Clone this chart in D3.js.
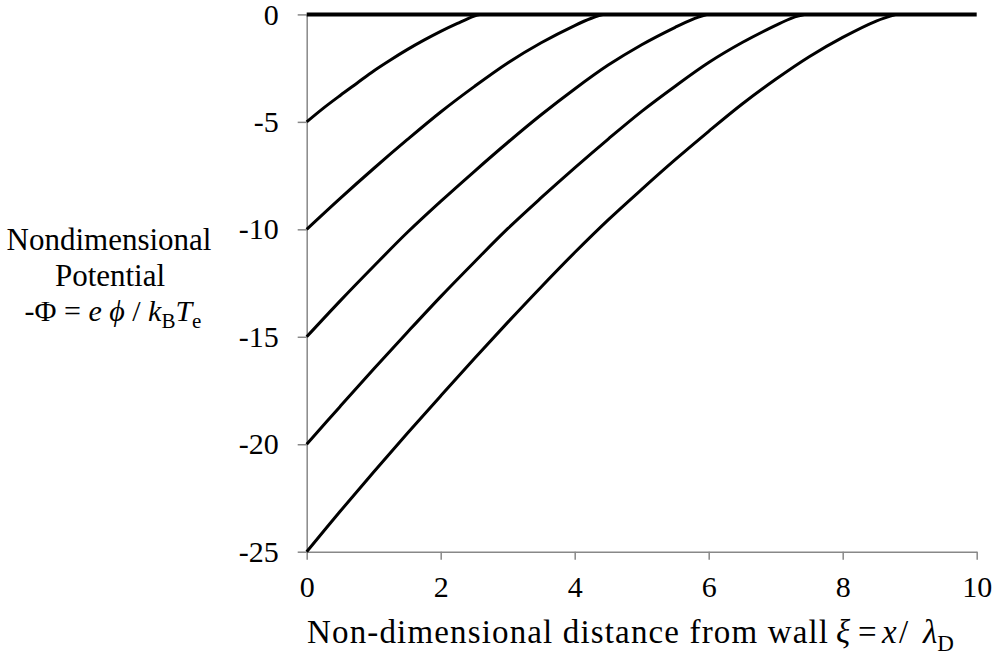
<!DOCTYPE html>
<meta charset="utf-8">
<script src="https://d3js.org/d3.v7.min.js"></script>
<style>
  body { margin: 0; background: #fff; }
  text { font-family: "Liberation Serif", "Times New Roman", serif; }
</style>
<div id="chart"></div>
<script>
// sheath potential profiles [xi, -Phi]
var zeroLine = [[0, 0], [10, 0]];
var from5  = [[0,-5],[0.25,-4.36],[0.5,-3.77],[0.75,-3.2],[1,-2.63],[1.25,-2.12],[1.5,-1.64],[1.75,-1.2],[2,-0.79],[2.25,-0.42],[2.5,-0.08],[2.6,0]];
var from10 = [[0,-10],[0.5,-8.56],[1,-7.17],[1.5,-5.83],[2,-4.54],[2.5,-3.36],[3,-2.26],[3.5,-1.32],[4,-0.52],[4.25,-0.18],[4.43,0]];
var from15 = [[0,-15],[0.5,-13.33],[1,-11.72],[1.5,-10.15],[2,-8.7],[2.5,-7.31],[3,-5.96],[3.5,-4.67],[4,-3.47],[4.5,-2.36],[5,-1.41],[5.5,-0.6],[5.75,-0.24],[5.98,0]];
var from20 = [[0,-20],[0.5,-18.24],[1,-16.5],[1.5,-14.8],[2,-13.13],[2.5,-11.53],[3,-9.97],[3.5,-8.53],[4,-7.14],[4.5,-5.8],[5,-4.51],[5.5,-3.34],[6,-2.24],[6.5,-1.31],[7,-0.51],[7.25,-0.16],[7.44,0]];
var from25 = [[0,-25],[0.5,-23.12],[1,-21.29],[1.5,-19.5],[2,-17.75],[2.5,-16.02],[3,-14.33],[3.5,-12.68],[4,-11.08],[4.5,-9.56],[5,-8.14],[5.5,-6.76],[6,-5.44],[6.5,-4.17],[7,-3.02],[7.5,-1.97],[8,-1.07],[8.5,-0.31],[8.8,0]];

var xTicks = [0, 2, 4, 6, 8, 10];
var yTicks = [0, -5, -10, -15, -20, -25];

var W = 997, H = 660;

var svg = d3.select("#chart")
  .append("svg")
    .attr("width", W)
    .attr("height", H);

var x = d3.scaleLinear().domain([0, 10]).range([306.7, 976.7]);
var y = d3.scaleLinear().domain([-25, 0]).range([551.7, 14.4]);

// X axis
var gx = svg.append("g")
  .attr("transform", "translate(0," + y(-25) + ")")
  .call(d3.axisBottom(x).tickValues(xTicks).tickSize(8).tickSizeOuter(0).tickPadding(16)
    .tickFormat(function(d) { return String(d); }));

// Y axis
var gy = svg.append("g")
  .attr("transform", "translate(" + x(0) + ",0)")
  .call(d3.axisLeft(y).tickValues(yTicks).tickSize(9).tickSizeOuter(0).tickPadding(19)
    .tickFormat(function(d) { return String(d); }));

[gx, gy].forEach(function(g) {
  g.select(".domain").attr("stroke", "#888").attr("stroke-width", 1.5);
  g.selectAll(".tick line").attr("stroke", "#888").attr("stroke-width", 1.5);
  g.selectAll(".tick text")
    .attr("fill", "#000")
    .style("font-family", "'Liberation Serif', serif")
    .style("font-size", "30px");
});

// curves
var line = d3.line()
  .x(function(d) { return x(d[0]); })
  .y(function(d) { return y(d[1]); })
  .curve(d3.curveCatmullRom.alpha(0.5));

[from5, from10, from15, from20, from25].forEach(function(s) {
  svg.append("path")
    .datum(s)
    .attr("d", line)
    .attr("fill", "none")
    .attr("stroke", "#000")
    .attr("stroke-width", 3)
    .attr("stroke-linejoin", "round");
});

svg.append("path")
  .datum(zeroLine)
  .attr("d", line)
  .attr("fill", "none")
  .attr("stroke", "#000")
  .attr("stroke-width", 4);

// Y title (3 lines)
var yt = svg.append("text")
  .attr("text-anchor", "middle")
  .style("font-size", "31px")
  .attr("fill", "#000");
yt.append("tspan").attr("x", 109).attr("y", 250).text("Nondimensional");
yt.append("tspan").attr("x", 110).attr("y", 286).text("Potential");

var yt3 = svg.append("text")
  .attr("x", 113).attr("y", 321)
  .attr("text-anchor", "middle")
  .style("font-size", "30px")
  .attr("fill", "#000");
yt3.append("tspan").text("-Φ = ");
yt3.append("tspan").style("font-style", "italic").text("e ϕ");
yt3.append("tspan").text(" / ");
yt3.append("tspan").style("font-style", "italic").text("k");
yt3.append("tspan").attr("dy", 7).style("font-size", "21px").text("B");
yt3.append("tspan").attr("dy", -7).style("font-style", "italic").text("T");
yt3.append("tspan").attr("dy", 7).style("font-size", "21px").text("e");

// X title
var xt = svg.append("text")
  .attr("y", 643)
  .style("font-size", "33px")
  .attr("fill", "#000");
xt.append("tspan").attr("x", 307).attr("textLength", 521).attr("lengthAdjust", "spacing")
  .text("Non-dimensional distance from wall");
xt.append("tspan").attr("x", 836).style("font-style", "italic").text("ξ");
xt.append("tspan").attr("x", 858).text("=");
xt.append("tspan").attr("x", 882).style("font-style", "italic").text("x");
xt.append("tspan").attr("x", 899).text("/");
xt.append("tspan").attr("x", 923).style("font-style", "italic").text("λ");
xt.append("tspan").attr("dy", 8).style("font-size", "23px").text("D");
</script>
